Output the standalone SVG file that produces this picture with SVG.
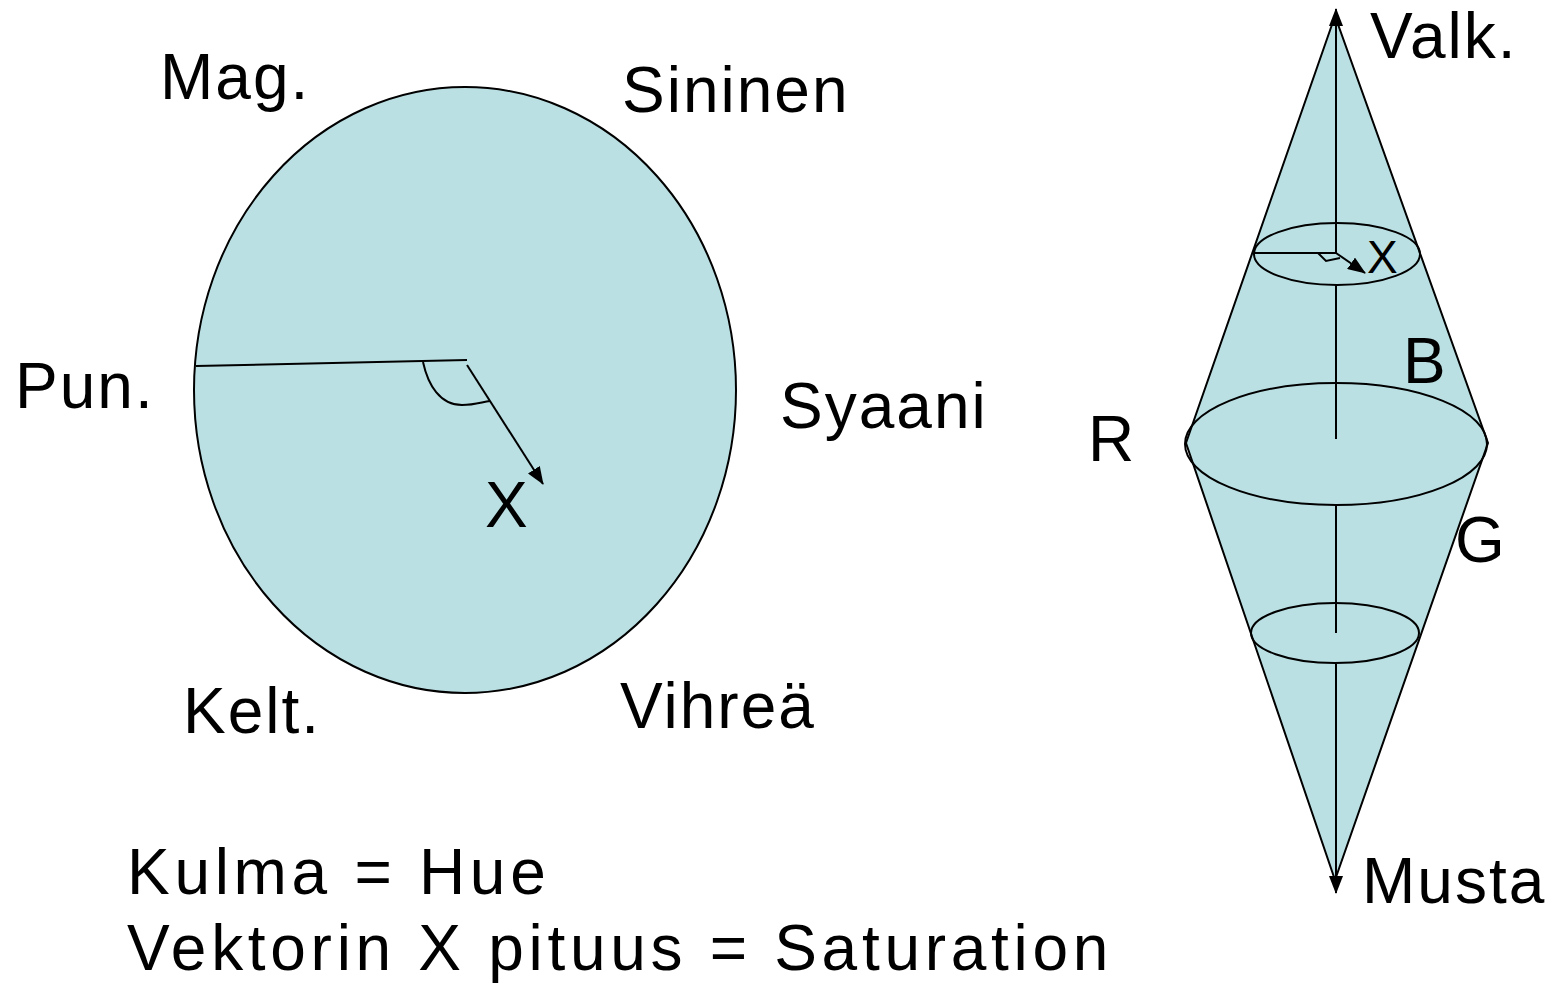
<svg xmlns="http://www.w3.org/2000/svg" width="1553" height="985" viewBox="0 0 1553 985">
<style>
.t{font-family:"Liberation Sans",Arial,sans-serif;font-size:64px;letter-spacing:2px;fill:#000}
.w{letter-spacing:4.7px}
.s{fill:#BBE0E3;stroke:#000;stroke-width:2}
.l{fill:none;stroke:#000;stroke-width:2}
</style>
<defs>
<marker id="ah" markerWidth="18" markerHeight="14" refX="17" refY="7" orient="auto" markerUnits="userSpaceOnUse" viewBox="0 0 18 14">
<path d="M0,0 L18,7 L0,14 z" fill="#000"/>
</marker>
</defs>
<rect width="1553" height="985" fill="#fff"/>
<g id="circle">
<ellipse class="s" cx="465" cy="390" rx="271" ry="303"/>
</g>
<g id="diamond">
<polygon class="s" points="1335,16 1186,443 1335,880 1488,443"/>
<ellipse class="l" cx="1336" cy="444" rx="151" ry="61"/>
<ellipse class="l" cx="1337" cy="254" rx="83" ry="31"/>
<ellipse class="l" cx="1335" cy="633" rx="84" ry="30"/>
</g>
<g id="connectors">
<line class="l" x1="196" y1="366" x2="467" y2="360"/>
<path class="l" d="M423,362 C428,385 440,405 462,405 C475,405 482,402 490,401"/>
<line class="l" x1="467" y1="365" x2="543" y2="484" marker-end="url(#ah)"/>
<line class="l" x1="1336" y1="253" x2="1336" y2="9" marker-end="url(#ah)"/>
<line class="l" x1="1336" y1="285" x2="1336" y2="439"/>
<line class="l" x1="1336" y1="506" x2="1336" y2="633"/>
<line class="l" x1="1336" y1="664" x2="1336" y2="893" marker-end="url(#ah)"/>
<line class="l" x1="1255" y1="253" x2="1336" y2="253"/>
<path class="l" d="M1318,253 L1326,261 L1340,258"/>
<line class="l" x1="1336" y1="253" x2="1365" y2="273" marker-end="url(#ah)"/>
</g>
<g id="labels">
<text class="t" x="160" y="99">Mag.</text>
<text class="t" x="622" y="112">Sininen</text>
<text class="t" x="15" y="408">Pun.</text>
<text class="t" x="780" y="428">Syaani</text>
<text class="t" x="485" y="527">X</text>
<text class="t" x="183" y="733">Kelt.</text>
<text class="t" x="620" y="728">Vihreä</text>
<text class="t w" x="127" y="894">Kulma = Hue</text>
<text class="t w" x="127" y="970">Vektorin X pituus = Saturation</text>
<text class="t" x="1370" y="58">Valk.</text>
<text class="t" x="1403" y="383">B</text>
<text class="t" x="1088" y="461">R</text>
<text class="t" x="1455" y="562">G</text>
<text class="t" x="1362" y="903">Musta</text>
<text class="t" x="1367" y="273" style="font-size:46px;letter-spacing:0">X</text>
</g>
</svg>
